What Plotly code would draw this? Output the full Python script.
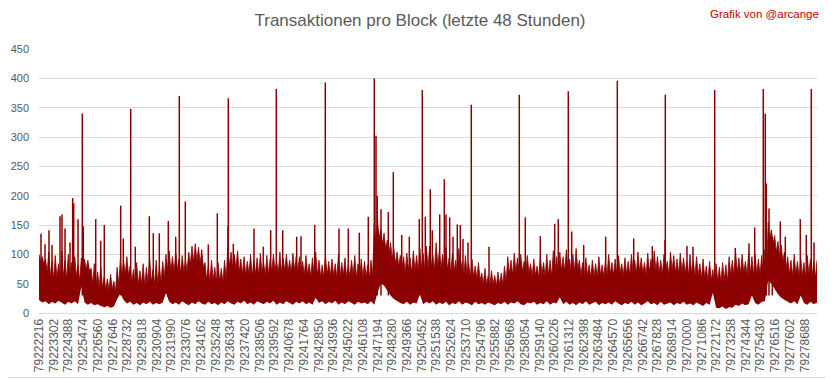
import numpy as np
import plotly.graph_objects as go

TITLE = "Transaktionen pro Block (letzte 48 Stunden)"
CREDIT = "Grafik von @arcange"

FIRST_BLOCK = 79222216
LAST_BLOCK = 79279594
LABEL_STEP = 1086
Y_TICKS = [0, 50, 100, 150, 200, 250, 300, 350, 400, 450]

# Peaks of the dense band of transactions per block (one value per ~240-block bucket)
band_peak = [
    100, 96, 92, 104, 88, 98, 84, 106, 90, 100, 86, 96, 82, 94, 92, 90, 76, 84, 70, 78,
    62, 58, 66, 54, 78, 92, 88, 96, 80, 74, 86, 72, 84, 78, 94, 74, 90, 80, 88, 100,
    106, 96, 104, 92, 98, 90, 104, 114, 118, 112, 108, 86, 80, 90, 78, 86, 76, 90, 112, 104,
    100, 106, 92, 96, 88, 100, 90, 94, 102, 86, 98, 92, 100, 88, 104, 94, 100, 90, 102, 96,
    96, 88, 98, 84, 94, 104, 90, 82, 98, 88, 92, 84, 100, 86, 94, 82, 90, 98, 84, 92,
    88, 82, 90, 152, 156, 142, 136, 124, 120, 110, 104, 98, 96, 102, 94, 106, 98, 110, 102, 114,
    114, 98, 120, 106, 100, 112, 94, 102, 90, 110, 88, 98, 84, 92, 80, 86, 68, 76, 64, 72,
    64, 70, 68, 80, 96, 90, 102, 94, 100, 88, 98, 84, 92, 80, 96, 86, 100, 90, 106, 96,
    104, 96, 108, 92, 100, 110, 90, 86, 94, 82, 90, 84, 96, 82, 88, 100, 86, 92, 98, 84,
    94, 88, 100, 90, 104, 94, 86, 102, 92, 106, 96, 90, 100, 88, 104, 98, 92, 102, 94, 88,
    100, 90, 96, 84, 92, 80, 88, 74, 84, 78, 86, 82, 96, 90, 104, 94, 100, 88, 102, 96,
    100, 92, 98, 108, 154, 142, 132, 122, 116, 104, 96, 90, 100, 88, 94, 86, 98, 92, 88, 90,
]

# Solid level of the band between the peaks
band_floor = [
    86, 84, 70, 62, 58, 60, 55, 62, 58, 60, 56, 62, 55, 60, 74, 72, 50, 46, 44, 42,
    40, 38, 40, 36, 48, 62, 66, 64, 52, 50, 48, 50, 46, 50, 52, 48, 50, 52, 60, 72,
    72, 70, 74, 68, 70, 72, 82, 86, 88, 84, 78, 56, 54, 56, 52, 54, 52, 58, 80, 78,
    76, 70, 66, 64, 66, 62, 66, 64, 68, 64, 66, 70, 72, 68, 70, 72, 70, 68, 72, 70,
    68, 64, 66, 62, 66, 64, 62, 60, 64, 62, 64, 60, 62, 64, 60, 62, 64, 60, 62, 60,
    62, 60, 64, 120, 128, 118, 110, 100, 92, 84, 80, 74, 70, 72, 68, 72, 70, 74, 72, 76,
    78, 74, 80, 76, 72, 74, 68, 70, 66, 68, 62, 64, 60, 62, 58, 56, 50, 48, 46, 48,
    46, 48, 48, 52, 66, 64, 70, 68, 70, 66, 68, 62, 64, 60, 66, 62, 64, 62, 68, 66,
    72, 70, 74, 68, 70, 74, 64, 62, 64, 60, 62, 60, 64, 62, 62, 66, 64, 66, 68, 64,
    66, 64, 68, 66, 70, 68, 64, 70, 66, 72, 68, 66, 70, 64, 72, 68, 66, 70, 68, 64,
    66, 62, 64, 58, 60, 54, 56, 50, 54, 52, 56, 54, 64, 62, 68, 66, 68, 64, 66, 64,
    66, 64, 66, 70, 128, 118, 104, 96, 88, 76, 66, 62, 66, 60, 64, 60, 66, 62, 60, 62,
]

# Lower edge of the band
band_low = [
    22, 18, 20, 15, 19, 16, 21, 17, 14, 19, 16, 20, 15, 45, 18, 14, 17, 13, 15, 12,
    10, 12, 9, 11, 24, 33, 22, 16, 19, 14, 17, 13, 18, 15, 19, 14, 17, 15, 18, 34,
    19, 15, 18, 14, 20, 16, 13, 18, 15, 20, 16, 14, 19, 15, 17, 13, 18, 15, 20, 16,
    14, 19, 16, 21, 15, 18, 14, 20, 17, 15, 19, 16, 21, 14, 18, 15, 20, 17, 14, 19,
    16, 20, 15, 18, 14, 26, 17, 20, 15, 19, 16, 21, 14, 18, 15, 20, 17, 14, 19, 16,
    18, 15, 20, 14, 35, 50, 47, 38, 30, 24, 20, 17, 15, 19, 14, 18, 16, 32, 15, 19,
    16, 20, 14, 18, 15, 19, 13, 17, 15, 20, 14, 18, 16, 13, 19, 15, 17, 14, 18, 15,
    13, 17, 15, 19, 14, 18, 16, 20, 15, 13, 18, 16, 19, 14, 17, 15, 20, 14, 18, 16,
    27, 15, 19, 14, 17, 13, 18, 15, 20, 14, 16, 19, 13, 17, 15, 18, 14, 20, 16, 13,
    17, 15, 19, 14, 18, 13, 16, 20, 15, 17, 13, 19, 14, 16, 18, 13, 17, 15, 19, 14,
    16, 13, 18, 15, 12, 17, 14, 34, 9, 8, 11, 7, 10, 9, 14, 12, 16, 13, 15, 30,
    17, 14, 19, 20, 56, 50, 40, 32, 26, 22, 19, 16, 20, 15, 30, 17, 14, 19, 15, 18,
]

# Individual blocks with many transactions
spike_blocks = [
    79225409, 79228979, 79232563, 79236177, 79239717, 79243331, 79246944, 79247070,
    79248346, 79250484, 79254098, 79257638, 79261252, 79264866, 79268406, 79272049,
    79275633, 79275781, 79275854, 79276054, 79279173,
    79222364, 79222659, 79222954, 79223175, 79223765, 79223912, 79224134, 79224502,
    79224701, 79224775, 79225092, 79225483, 79226398, 79226766, 79227032, 79228241,
    79228433, 79229318, 79230351, 79230646, 79231088, 79231752, 79232298, 79233006,
    79234702, 79235366, 79236155, 79236546, 79238072, 79238758, 79239304, 79240189,
    79241221, 79241539, 79242549, 79244341, 79245027, 79245838, 79246502, 79247166,
    79247439, 79247977, 79248965, 79249526, 79250263, 79250706, 79251074, 79251222,
    79251768, 79252107, 79252232, 79252505, 79252749, 79253066, 79253287, 79253486,
    79253855, 79255404, 79258081, 79259187, 79260249, 79260514, 79261503, 79262388,
    79264010, 79266075, 79267447, 79268384, 79270006, 79270449, 79273568, 79274579,
    79274999, 79276297, 79276887, 79277256, 79278362, 79278804, 79279372,
]
spike_values = [
    340, 348, 370, 366, 382, 393, 400, 302,
    240, 380, 355, 372, 378, 396, 372, 380,
    382, 340, 221, 178, 382,
    135, 117, 141, 116, 165, 168, 144, 120,
    196, 187, 160, 148, 160, 123, 150, 183,
    127, 113, 165, 136, 136, 157, 130, 190,
    117, 170, 148, 118, 144, 113, 141, 141,
    130, 131, 150, 144, 144, 137, 164, 200,
    177, 172, 133, 130, 160, 164, 211, 141,
    168, 228, 168, 163, 130, 151, 150, 126,
    120, 113, 163, 131, 152, 160, 139, 116,
    130, 127, 114, 124, 114, 113, 111, 119,
    146, 130, 156, 130, 160, 133, 120,
]

COLOR = "#8B0000"
GRID = "#D9D9D9"
TEXT = "#595959"

band_x = np.linspace(FIRST_BLOCK, LAST_BLOCK, len(band_peak))
half = (band_x[1] - band_x[0]) / 2

# upper edge: peak at each bucket, solid level halfway to the next bucket
top_x, top_y = [], []
for i, (xv, p, f) in enumerate(zip(band_x, band_peak, band_floor)):
    top_x.append(xv)
    top_y.append(p)
    if i < len(band_x) - 1:
        top_x.append(xv + half)
        top_y.append(f)

sx, sy = [], []
for b, v in zip(spike_blocks, spike_values):
    sx += [b, b, None]
    sy += [30, v, None]

tick_vals = list(range(FIRST_BLOCK, LAST_BLOCK, LABEL_STEP))
tick_text = [str(t) for t in tick_vals]

fig = go.Figure()
fig.add_trace(go.Scatter(x=band_x, y=band_low, mode="lines",
                         line=dict(width=0, color=COLOR), hoverinfo="skip",
                         showlegend=False))
fig.add_trace(go.Scatter(x=top_x, y=top_y, mode="lines", fill="tonexty",
                         fillcolor=COLOR, line=dict(width=0.8, color=COLOR),
                         showlegend=False))
fig.add_trace(go.Scatter(x=sx, y=sy, mode="lines",
                         line=dict(width=1.5, color=COLOR), showlegend=False))

# page body has an 8px margin: figure is laid out in page coordinates minus 8
W, H = 825, 371
L, R, T, B = 31, 16, 41, 66
pw, ph = W - L - R, H - T - B

fig.update_layout(
    width=W, height=H,
    margin=dict(l=L, r=R, t=T, b=B, pad=0, autoexpand=False),
    paper_bgcolor="white", plot_bgcolor="white",
    font=dict(family="Liberation Sans, Arial, sans-serif", color=TEXT),
    title=dict(text=TITLE, x=412 / W, xanchor="center", y=1 - 12 / H, yanchor="middle",
               font=dict(size=17, color=TEXT)),
    xaxis=dict(range=[FIRST_BLOCK, LAST_BLOCK], tickmode="array",
               tickvals=tick_vals, ticktext=tick_text, tickangle=-90,
               tickfont=dict(size=12, color=TEXT), showgrid=False,
               showline=True, linecolor=GRID, linewidth=1, ticks="",
               zeroline=False, fixedrange=True, automargin=False),
    yaxis=dict(range=[0, 450], tickmode="array", tickvals=Y_TICKS,
               tickfont=dict(size=11, color=TEXT), showgrid=True, gridcolor=GRID,
               gridwidth=1, zeroline=False, showline=False, ticks="",
               ticklabelstandoff=9, fixedrange=True, automargin=False),
    annotations=[dict(text=CREDIT, xref="paper", yref="paper",
                      x=(813 - L) / pw, y=1 + (T - 6) / ph,
                      xanchor="right", yanchor="middle", showarrow=False,
                      font=dict(size=11.5, color="#C00000"))],
    shapes=[
        dict(type="line", xref="paper", yref="paper",
             x0=(W - 1.5 - L) / pw, x1=(W - 1.5 - L) / pw,
             y0=-(B - 0.5) / ph, y1=1 + T / ph,
             line=dict(color=GRID, width=1), layer="below"),
        dict(type="line", xref="paper", yref="paper",
             x0=-L / pw, x1=(W - 1.5 - L) / pw,
             y0=-(B - 1.5) / ph, y1=-(B - 1.5) / ph,
             line=dict(color=GRID, width=1), layer="below"),
    ],
)

fig.write_html("out.html")
